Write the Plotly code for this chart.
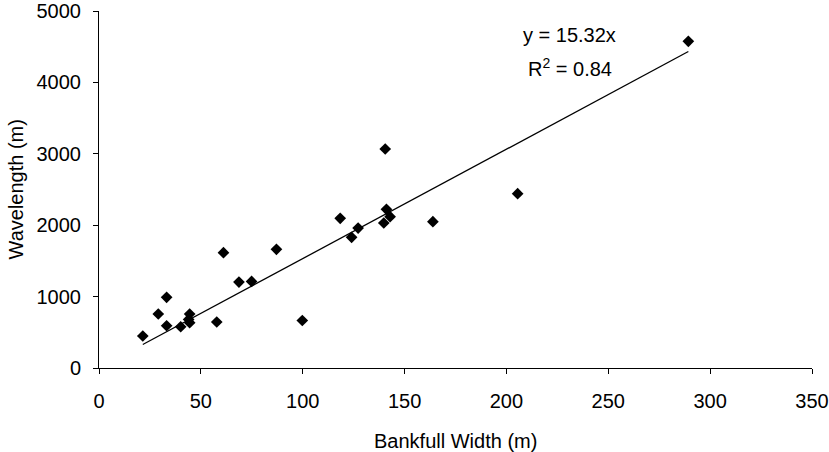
import plotly.graph_objects as go

bankfull_width = [21.5, 29.1, 33.2, 33.2, 40.1, 44.5, 44.0, 44.5, 57.8, 61.1, 68.7, 74.9, 87.1, 99.8,
                  118.4, 124.0, 127.2, 139.8, 140.5, 141.1, 142.9, 163.9, 205.5, 289.3]
wavelength = [448, 756, 990, 592, 578, 756, 680, 635, 644, 1615, 1204, 1213, 1662, 665,
              2096, 1830, 1960, 2031, 3067, 2222, 2119, 2049, 2441, 4575]
slope = 15.32
r2 = 0.84
x_ticks = [0, 50, 100, 150, 200, 250, 300, 350]
y_ticks = [0, 1000, 2000, 3000, 4000, 5000]

x_min = min(bankfull_width)
x_max = max(bankfull_width)
fit_x = [x_min, x_max]
fit_y = [slope * v for v in fit_x]

font = "Liberation Sans, Arial, sans-serif"
fs = 20

fig = go.Figure()
fig.add_trace(go.Scatter(x=fit_x, y=fit_y, mode="lines",
                         line=dict(color="black", width=1.3), showlegend=False))
fig.add_trace(go.Scatter(x=bankfull_width, y=wavelength, mode="markers",
                         marker=dict(symbol="diamond", size=9, color="black"),
                         showlegend=False))

fig.add_annotation(x=231, y=4665, xref="x", yref="y", text=f"y = {slope}x",
                   showarrow=False, font=dict(family=font, size=fs, color="black"))
fig.add_annotation(x=231, y=4215, xref="x", yref="y", text=f"R<sup>2</sup> = {r2}",
                   showarrow=False, font=dict(family=font, size=fs, color="black"))

# axis titles
fig.add_annotation(x=0.5, y=-0.2, xref="paper", yref="paper", yshift=-2,
                   text="Bankfull Width (m)", showarrow=False, yanchor="middle",
                   font=dict(family=font, size=fs, color="black"))
fig.add_annotation(x=0, xref="paper", y=0.5, yref="paper", xshift=-84,
                   text="Wavelength (m)", showarrow=False, textangle=-90, xanchor="center",
                   font=dict(family=font, size=fs, color="black"))

fig.update_layout(
    width=829, height=452,
    margin=dict(l=99, r=17, t=11, b=84),
    plot_bgcolor="white", paper_bgcolor="white",
    font=dict(family=font, size=fs, color="black"),
    xaxis=dict(range=[0, 350], tickvals=x_ticks, automargin=False,
               showgrid=False, zeroline=False, showline=True, linecolor="black", linewidth=1,
               ticks="outside", ticklen=5, tickcolor="black", ticklabelstandoff=10,
               tickfont=dict(size=fs)),
    yaxis=dict(range=[0, 5000], tickvals=y_ticks, automargin=False,
               showgrid=False, zeroline=False, showline=True, linecolor="black", linewidth=1,
               ticks="outside", ticklen=5, tickcolor="black", ticklabelstandoff=8,
               tickfont=dict(size=fs)),
)

fig.write_html("out.html")
